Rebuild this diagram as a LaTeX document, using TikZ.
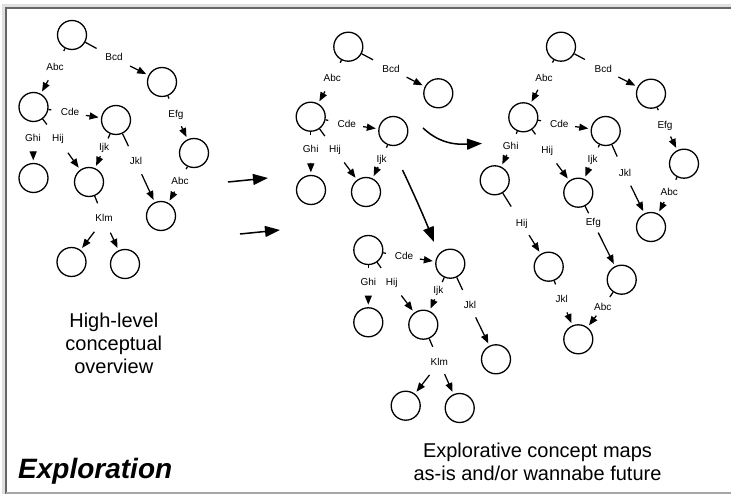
\documentclass[tikz,border=0pt]{standalone}
\usepackage{fontspec}
\setmainfont{Liberation Sans}
\usetikzlibrary{calc,arrows.meta}

% a labelled link: arrow from a label to the concept it points at
\newcommand\cmlink[3]{\draw[arr] ($(#1)!#3!(#2)$) -- (#2);}
% short line leaving a concept towards the label of one of its links
\newcommand\cmstub[3]{\draw[stubline] (#1) -- ($(#1)!#3!(#2)$);}

\begin{document}
\begin{tikzpicture}[x=1pt,y=-1pt,
  concept/.style={circle,draw,line width=1.3pt,minimum size=29pt,inner sep=0pt},
  lbl/.style={font=\fontsize{10}{11}\selectfont,inner sep=0.5pt,text height=7pt,text depth=1.5pt},
  arr/.style={line width=1.25pt,-{Triangle[length=9pt,width=7pt]},shorten >=2.5pt},
  stubline/.style={line width=1.25pt},
  bigarr/.style={line width=1.5pt,-{Triangle[length=15pt,width=11pt]}},
  bigtext/.style={font=\fontsize{20}{23}\selectfont,inner sep=0pt,anchor=base},
  frameline/.style={draw=black!60,line width=1.6pt},
]
\useasboundingbox (0,0) rectangle (731,494);

% frame
\draw[black!12,line width=4pt] (4,494) -- (4,6) -- (731,6);
\draw[frameline] (6,494) -- (6,8) -- (731,8);
\draw[black!35,line width=1.5pt] (6,493) -- (731,493);

% ---------- high-level map ----------
\node[concept] (a1) at (72,35) {};
\node[concept] (a2) at (162,82) {};
\node[concept] (a3) at (33.5,107) {};
\node[concept] (a4) at (116,120) {};
\node[concept] (a5) at (194,153) {};
\node[concept] (a6) at (33.5,178) {};
\node[concept] (a7) at (89,182) {};
\node[concept] (a8) at (161,216) {};
\node[concept] (a9) at (71.5,262) {};
\node[concept] (a10) at (125,264) {};

\node[lbl] (ta1) at (55,68) {Abc};
\node[lbl] (ta2) at (114,58) {Bcd};
\node[lbl] (ta3) at (70,113) {Cde};
\node[lbl] (ta4) at (176,115) {Efg};
\node[lbl] (ta5) at (33,139) {Ghi};
\node[lbl] (ta6) at (58,139) {Hij};
\node[lbl] (ta7) at (104,148) {Ijk};
\node[lbl] (ta8) at (136,162) {Jkl};
\node[lbl] (ta9) at (180,182) {Abc};
\node[lbl] (ta10) at (104,219) {Klm};

\cmstub{a1}{ta1}{18pt}
\cmstub{a1}{ta2}{28pt}
\cmstub{a3}{ta3}{18pt}
\cmstub{a3}{ta6}{22pt}
\cmstub{a2}{ta4}{18pt}
\cmstub{a4}{ta7}{20pt}
\cmstub{a4}{ta8}{29pt}
\cmstub{a5}{ta9}{18pt}
\cmstub{a7}{ta10}{23pt}

\cmlink{ta1}{a3}{14pt}
\cmlink{ta2}{a2}{18pt}
\cmlink{ta3}{a4}{16pt}
\cmlink{ta4}{a5}{12.5pt}
\cmlink{ta5}{a6}{14pt}
\cmlink{ta6}{a7}{17pt}
\cmlink{ta7}{a7}{9pt}
\cmlink{ta8}{a8}{13.5pt}
\cmlink{ta9}{a8}{11pt}
\cmlink{ta10}{a9}{16pt}
\cmlink{ta10}{a10}{15pt}

% ---------- first explorative map ----------
\node[concept] (b1) at (348.3,46.7) {};
\node[concept] (b2) at (438.3,93.3) {};
\node[concept] (b3) at (310.7,116.7) {};
\node[concept] (b4) at (393.3,131) {};
\node[concept] (b6) at (311,190) {};
\node[concept] (b7) at (366,192) {};

\node[lbl] (tb1) at (332.3,78.3) {Abc};
\node[lbl] (tb2) at (391,69.3) {Bcd};
\node[lbl] (tb3) at (346.7,124.3) {Cde};
\node[lbl] (tb5) at (310.7,150) {Ghi};
\node[lbl] (tb6) at (335,150) {Hij};
\node[lbl] (tb7) at (381.7,159.3) {Ijk};

\cmstub{b1}{tb1}{18pt}
\cmstub{b1}{tb2}{28pt}
\cmstub{b3}{tb3}{18pt}
\cmstub{b3}{tb5}{18pt}
\cmstub{b3}{tb6}{24pt}
\cmstub{b4}{tb7}{18pt}

\cmlink{tb1}{b3}{15pt}
\cmlink{tb2}{b2}{17.5pt}
\cmlink{tb3}{b4}{16.5pt}
\cmlink{tb5}{b6}{13pt}
\cmlink{tb6}{b7}{15.5pt}
\cmlink{tb7}{b7}{8.5pt}

% ---------- second explorative map ----------
\node[concept] (c1) at (368.3,250) {};
\node[concept] (c2) at (450.3,263.7) {};
\node[concept] (c6) at (368.3,322.3) {};
\node[concept] (c7) at (423.3,324.7) {};
\node[concept] (c8) at (496,359.3) {};
\node[concept] (c9) at (405.7,405.7) {};
\node[concept] (c10) at (459.7,408) {};

\node[lbl] (tc3) at (404,256.7) {Cde};
\node[lbl] (tc5) at (368.3,282.7) {Ghi};
\node[lbl] (tc6) at (391.7,282.7) {Hij};
\node[lbl] (tc7) at (438.3,291) {Ijk};
\node[lbl] (tc8) at (470,305.7) {Jkl};
\node[lbl] (tc10) at (439.3,362.3) {Klm};

\cmstub{c1}{tc3}{18pt}
\cmstub{c1}{tc5}{18pt}
\cmstub{c1}{tc6}{22pt}
\cmstub{c2}{tc7}{20pt}
\cmstub{c2}{tc8}{29pt}
\cmstub{c7}{tc10}{24pt}

\cmlink{tc3}{c2}{16pt}
\cmlink{tc5}{c6}{13pt}
\cmlink{tc6}{c7}{16pt}
\cmlink{tc7}{c7}{9pt}
\cmlink{tc8}{c8}{13pt}
\cmlink{tc10}{c9}{16pt}
\cmlink{tc10}{c10}{13pt}

% ---------- third explorative map ----------
\node[concept] (d1) at (561,46.7) {};
\node[concept] (d2) at (651,93.7) {};
\node[concept] (d3) at (523.3,117.3) {};
\node[concept] (d4) at (605.7,131) {};
\node[concept] (d5) at (684,163.7) {};
\node[concept] (d6) at (494.7,180.3) {};
\node[concept] (d7) at (578.3,192.7) {};
\node[concept] (d8) at (651,227) {};
\node[concept] (d9) at (548.7,266.7) {};
\node[concept] (d10) at (621.7,279.7) {};
\node[concept] (d11) at (578.3,339.3) {};

\node[lbl] (td1) at (544,78.3) {Abc};
\node[lbl] (td2) at (603.3,69.3) {Bcd};
\node[lbl] (td3) at (559.3,124.3) {Cde};
\node[lbl] (td4) at (665,125.3) {Efg};
\node[lbl] (td5) at (510.7,146.7) {Ghi};
\node[lbl] (td6) at (547.3,151) {Hij};
\node[lbl] (td7) at (592.7,159.3) {Ijk};
\node[lbl] (td8) at (625,174) {Jkl};
\node[lbl] (td9) at (669.3,192.3) {Abc};
\node[lbl] (td10) at (521.7,223.3) {Hij};
\node[lbl] (td11) at (593.3,222.7) {Efg};
\node[lbl] (td12) at (561.7,300) {Jkl};
\node[lbl] (td13) at (602.7,307.3) {Abc};

\cmstub{d1}{td1}{18pt}
\cmstub{d1}{td2}{27pt}
\cmstub{d2}{td4}{18pt}
\cmstub{d3}{td3}{18pt}
\cmstub{d3}{td5}{18pt}
\cmstub{d3}{td6}{21pt}
\cmstub{d4}{td7}{18pt}
\cmstub{d4}{td8}{28pt}
\cmstub{d5}{td9}{18pt}
\cmstub{d6}{td10}{31pt}
\cmstub{d7}{td11}{23pt}
\cmstub{d9}{td12}{19pt}
\cmstub{d10}{td13}{21pt}

\cmlink{td1}{d3}{13pt}
\cmlink{td2}{d2}{17pt}
\cmlink{td3}{d4}{16pt}
\cmlink{td4}{d5}{12.5pt}
\cmlink{td5}{d6}{9pt}
\cmlink{td6}{d7}{15.5pt}
\cmlink{td7}{d7}{9pt}
\cmlink{td8}{d8}{13pt}
\cmlink{td9}{d8}{11pt}
\cmlink{td10}{d9}{14pt}
\cmlink{td11}{d10}{11pt}
\cmlink{td12}{d11}{13.5pt}
\cmlink{td13}{d11}{10.5pt}

% ---------- arrows between the maps ----------
\coordinate (p1s) at (228,182);  \coordinate (p1e) at (268,178);
\coordinate (p2s) at (240,234);  \coordinate (p2e) at (280,230);
\coordinate (p3s) at (423,128);  \coordinate (p3e) at (482,143.5);
\coordinate (p4s) at (402.5,170); \coordinate (p4e) at (434,242);
\draw[bigarr] (p1s) -- (p1e);
\draw[bigarr] (p2s) -- (p2e);
\draw[bigarr] (p3s) .. controls (436,140) and (449,145) .. (p3e);
\draw[bigarr] (p4s) .. controls (413,192) and (424,217) .. (p4e);

% ---------- captions ----------
\node[bigtext] (cap1) at (113.8,327) {High-level};
\node[bigtext] (cap2) at (113.8,350.3) {conceptual};
\node[bigtext] (cap3) at (113.8,373.6) {overview};
\node[bigtext] (cap4) at (537.5,457) {Explorative concept maps};
\node[bigtext] (cap5) at (537.5,480) {as-is and/or wannabe future};
\node[font=\fontsize{28}{30}\selectfont\bfseries\itshape,inner sep=0pt,anchor=base west] (cap6) at (18,478) {Exploration};
\end{tikzpicture}
\end{document}
